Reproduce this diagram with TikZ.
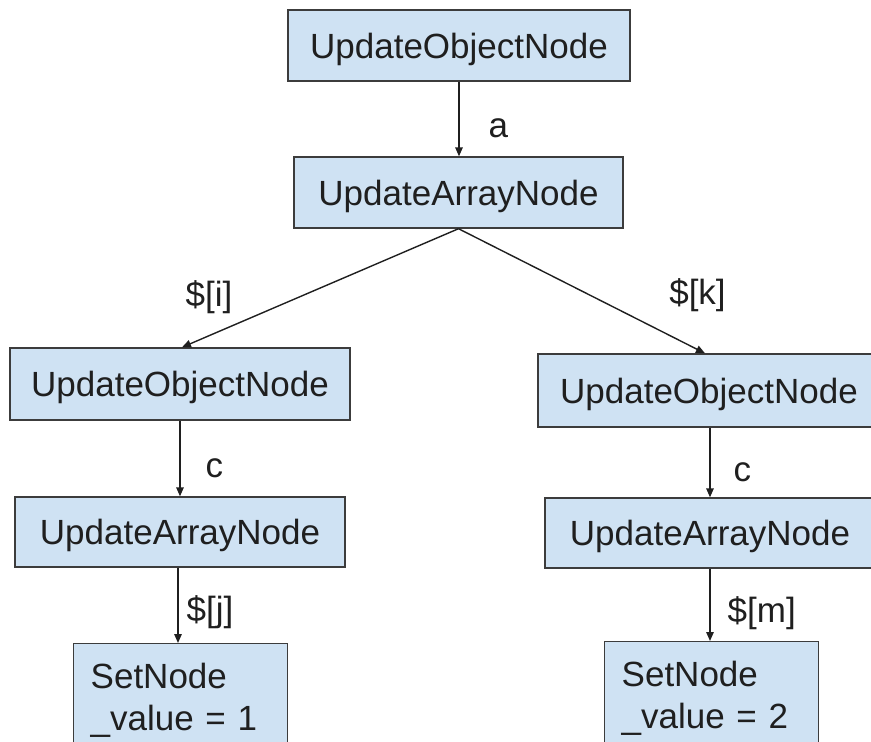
\documentclass[tikz,border=0pt]{standalone}
\usepackage{fontspec}
\setmainfont{Liberation Sans}
\usetikzlibrary{arrows.meta}
\definecolor{boxfill}{HTML}{CFE2F3}
\definecolor{boxline}{HTML}{3C3C3C}
\definecolor{ink}{HTML}{1F1F1F}
\begin{document}
\begin{tikzpicture}[x=1pt,y=-1pt,
  every node/.style={font=\fontsize{35}{42}\selectfont, text=ink},
  box/.style={draw=boxline, fill=boxfill, line width=1.4pt, inner sep=0pt},
  onebox/.style={box, text depth=0pt},
  setbox/.style={box, anchor=north west, align=left, text width=180pt,
                 inner xsep=17pt, inner ysep=19pt},
  conn/.style={draw=ink, line width=1.4pt, -{Triangle[length=9pt,width=7.5pt]}},
  lbl/.style={inner sep=0pt}]

\path[use as bounding box] (0,0) rectangle (871,742);
\clip (0,0) rectangle (871,742);

% tree of update nodes
\node[onebox, minimum width=342pt, minimum height=71pt] (root) at (459,45.5) {UpdateObjectNode};
\node[onebox, minimum width=329pt, minimum height=71pt] (arr)  at (458.5,192.5) {UpdateArrayNode};
\node[onebox, minimum width=340pt, minimum height=72pt] (lobj) at (180,384) {UpdateObjectNode};
\node[onebox, minimum width=330pt, minimum height=70pt] (larr) at (180,532) {UpdateArrayNode};
\node[onebox, minimum width=342pt, minimum height=73pt] (robj) at (709,390.5) {UpdateObjectNode};
\node[onebox, minimum width=330pt, minimum height=70pt] (rarr) at (710,533) {UpdateArrayNode};
\node[setbox] (lset) at (73,643) {SetNode\\\_value = 1};
\node[setbox] (rset) at (604,641) {SetNode\\\_value = 2};

% connectors
\draw[conn] (root.south) -- node[lbl, pos=0.62, anchor=west, xshift=29pt] {a} (root.south |- arr.north);
\draw[conn] (arr.south) -- ([xshift=2pt]lobj.north);
\draw[conn] (arr.south) -- ([xshift=-4pt]robj.north);
\node[lbl] (li) at (209,297.5) {\$[i]};
\node[lbl] (lk) at (697.5,295) {\$[k]};

\draw[conn] (lobj.south) -- node[lbl, pos=0.63, anchor=west, xshift=25pt] {c} (lobj.south |- larr.north);
\draw[conn] ([xshift=-2pt]larr.south) -- node[lbl, pos=0.59, anchor=west, xshift=8pt] {\$[j]} ([xshift=-2pt]larr.south |- lset.north);

\draw[conn] (rarr.north |- robj.south) -- node[lbl, pos=0.64, anchor=west, xshift=23pt] {c} (rarr.north);
\draw[conn] (rarr.south) -- node[lbl, pos=0.61, anchor=west, xshift=17pt] {\$[m]} (rarr.south |- rset.north);
\end{tikzpicture}
\end{document}
